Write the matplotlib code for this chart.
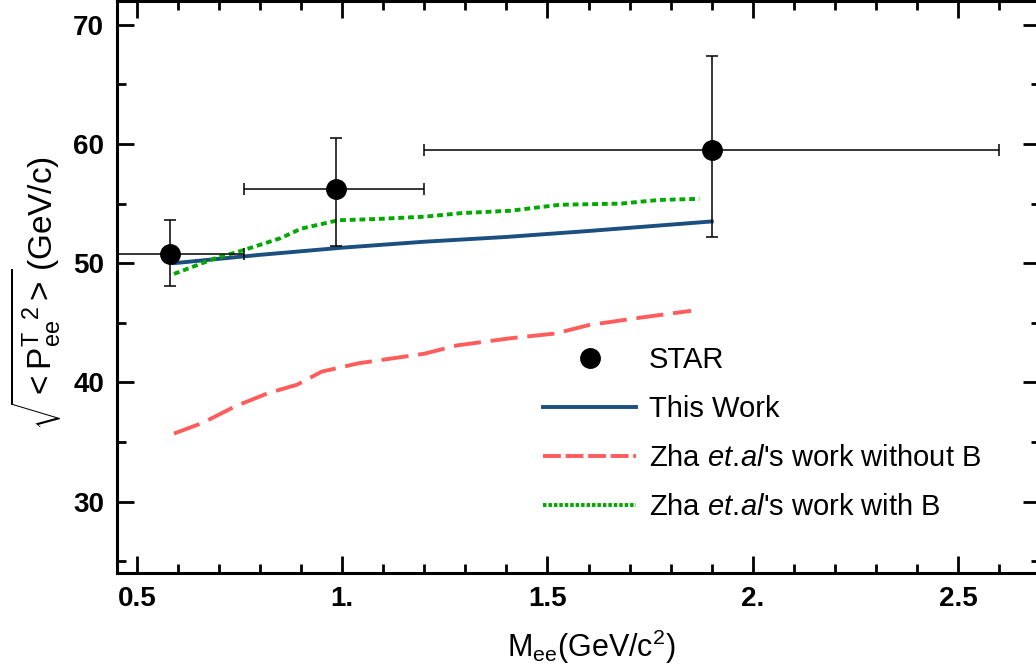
import matplotlib
matplotlib.use("Agg")
import matplotlib.pyplot as plt
from matplotlib.ticker import MultipleLocator

plt.rcParams["font.family"] = ["Liberation Sans", "DejaVu Sans"]
plt.rcParams["mathtext.fontset"] = "custom"
plt.rcParams["mathtext.rm"] = "Liberation Sans"
plt.rcParams["mathtext.it"] = "Liberation Sans:italic"
plt.rcParams["mathtext.bf"] = "Liberation Sans:bold"

# STAR data points
star_x = [0.58, 0.985, 1.9]
star_y = [50.75, 56.2, 59.5]
star_xlo = [0.42, 0.76, 1.2]
star_xhi = [0.76, 1.2, 2.6]
star_ylo = [48.1, 51.4, 52.2]
star_yhi = [53.6, 60.5, 67.4]

# This Work
work_x = [0.59, 0.8, 1.0, 1.2, 1.4, 1.6, 1.9]
work_y = [50.0, 50.7, 51.3, 51.8, 52.2, 52.7, 53.5]

# Zha et.al without B
noB_x = [0.59, 0.66, 0.74, 0.82, 0.89, 0.95, 1.04, 1.2, 1.28, 1.41, 1.52, 1.6, 1.72, 1.85]
noB_y = [35.7, 36.6, 38.0, 39.1, 39.8, 40.9, 41.6, 42.4, 43.1, 43.7, 44.1, 44.8, 45.4, 46.0]

# Zha et.al with B
withB_x = [0.59, 0.69, 0.76, 0.85, 0.9, 0.99, 1.08, 1.2, 1.29, 1.41, 1.53, 1.68, 1.77, 1.87]
withB_y = [49.1, 50.4, 51.1, 52.1, 52.9, 53.6, 53.7, 53.9, 54.2, 54.4, 54.9, 55.0, 55.3, 55.4]

xticks = [0.5, 1.0, 1.5, 2.0, 2.5]
xtick_labels = ["0.5", "1.", "1.5", "2.", "2.5"]
yticks = [30, 40, 50, 60, 70]

fig = plt.figure(figsize=(10.36, 6.68), dpi=100)
ax = fig.add_axes([116.5 / 1036, 95 / 668, 923.5 / 1036, 572 / 668])

xerr = [[c - lo for c, lo in zip(star_x, star_xlo)], [hi - c for c, hi in zip(star_x, star_xhi)]]
yerr = [[c - lo for c, lo in zip(star_y, star_ylo)], [hi - c for c, hi in zip(star_y, star_yhi)]]
ax.errorbar(star_x, star_y, xerr=xerr, yerr=yerr, fmt="none", ecolor="black",
            elinewidth=1.1, capsize=4.5, capthick=1.1, zorder=3)

ax.plot(work_x, work_y, color="#1a4f80", lw=2.8, zorder=2)
ax.plot(noB_x, noB_y, color="#ff5c5c", lw=2.8, dashes=(7, 2.5), zorder=2)
ax.plot(withB_x, withB_y, color="#00a800", lw=2.8, dashes=(1.5, 1.0), zorder=2)
ax.plot(star_x, star_y, "o", color="black", ms=14, zorder=4)

# legend proxies
h_star, = ax.plot([], [], "o", color="black", ms=14)
h_work, = ax.plot([], [], color="#1a4f80", lw=2.8)
h_noB, = ax.plot([], [], color="#ff5c5c", lw=2.8, dashes=(4.6, 1.2))
h_withB, = ax.plot([], [], color="#00a800", lw=2.8, dashes=(0.9, 0.5))
ax.legend([h_star, h_work, h_noB, h_withB],
          ["STAR", "This Work", r"Zha $\it{et.\!al}$'s work without B", r"Zha $\it{et.\!al}$'s work with B"],
          loc="upper left", bbox_to_anchor=(543 / 1036, 1 - 346 / 668),
          bbox_transform=fig.transFigure, frameon=False, fontsize=21,
          handlelength=3.2, handletextpad=0.42, labelspacing=0.72,
          borderpad=0, borderaxespad=0)

ax.set_xlim(0.45, 2.7)
ax.set_ylim(24, 72)
ax.set_xticks(xticks)
ax.set_xticklabels(xtick_labels)
ax.set_yticks(yticks)
ax.xaxis.set_minor_locator(MultipleLocator(0.1))
ax.yaxis.set_minor_locator(MultipleLocator(5))
ax.tick_params(which="both", direction="in", top=True, right=True, width=2)
ax.tick_params(which="major", length=12, labelsize=20, pad=9)
ax.tick_params(which="minor", length=6.5)
for lab in ax.get_xticklabels() + ax.get_yticklabels():
    lab.set_fontweight("bold")
for sp in ax.spines.values():
    sp.set_linewidth(2.2)

ax.set_xlabel(r"M$_{\mathrm{ee}}$(GeV/c$^{2}$)", fontsize=22)
ax.xaxis.set_label_coords(0.514, -0.095)
ax.set_ylabel(r"$\sqrt{<{\mathrm{P}^{\mathrm{T}}_{\mathrm{ee}}}^{2}>}$(GeV/c)", fontsize=24)
ax.yaxis.set_label_coords(-0.058, 0.49)

fig.savefig("out.png", dpi=100)
